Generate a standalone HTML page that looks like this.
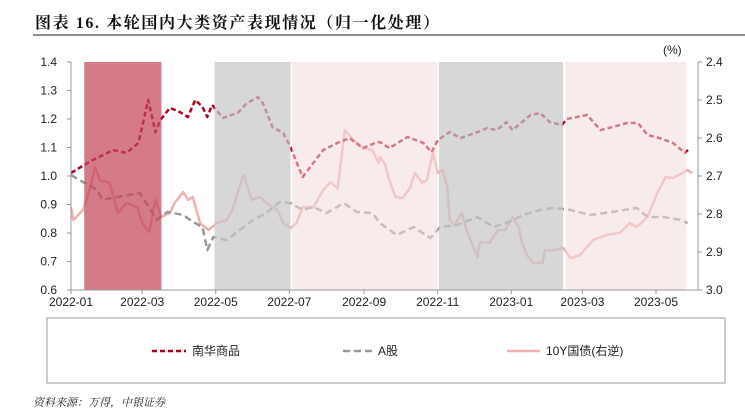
<!DOCTYPE html>
<html><head><meta charset="utf-8"><style>
body{margin:0;background:#fff;width:745px;height:412px;overflow:hidden;font-family:"Liberation Sans","Noto Sans CJK SC",sans-serif}
</style></head><body>
<svg id="c" width="745" height="412" xmlns="http://www.w3.org/2000/svg">
<text x="35" y="28" font-family="'Liberation Serif','Noto Serif CJK SC',serif" font-weight="bold" font-size="16" letter-spacing="1.6" fill="#111">图表 16. 本轮国内大类资产表现情况（归一化处理）</text>
<line x1="33" y1="35" x2="745" y2="35" stroke="#222" stroke-width="1"/>
<text x="663" y="54" font-size="12" fill="#222">(%)</text>
<g id="marks"></g>
<g id="bands"></g>
<g id="axes"></g>
<rect x="47" y="318" width="678" height="65" fill="none" stroke="#999" stroke-width="1"/>
<g><line x1="152" y1="351" x2="186" y2="351" stroke="#b0001e" stroke-width="2.5" stroke-dasharray="5,3"/><text x="192" y="355" font-size="12" fill="#222">南华商品</text></g>
<g><line x1="343" y1="351" x2="376" y2="351" stroke="#999" stroke-width="2.5" stroke-dasharray="7,4"/><text x="378" y="355" font-size="12" fill="#222">A股</text></g>
<g><line x1="507" y1="351" x2="540" y2="351" stroke="#f0b0b0" stroke-width="2.5"/><text x="546" y="355" font-size="12" fill="#222">10Y国债(右逆)</text></g>
<text x="33" y="406" font-size="11" font-style="italic" fill="#222" font-family="'Liberation Serif','Noto Serif CJK SC',serif">资料来源：万得，中银证券</text>
</svg>
<script>
const xTickLabels=["2022-01","2022-03","2022-05","2022-07","2022-09","2022-11","2023-01","2023-03","2023-05"];
const xTickDays=[0,59,120,181,243,304,365,424,485];
const leftTicks=[0.6,0.7,0.8,0.9,1.0,1.1,1.2,1.3,1.4];
const rightTicks=[2.4,2.5,2.6,2.7,2.8,2.9,3.0];
const nanhuaDays=[0,18,35,46,56,64,70,74,82,90,97,103,109,113,117,126,138,146,155,159,167,176,182,192,201,209,221,231,242,254,256,264,279,292,299,304,314,323,337,345,353,361,366,381,389,397,407,411,428,439,449,461,470,478,488,499,509,513];
const nanhuaVals=[1.011,1.056,1.091,1.081,1.116,1.267,1.154,1.196,1.239,1.225,1.207,1.267,1.242,1.207,1.249,1.204,1.221,1.256,1.277,1.256,1.172,1.151,1.102,0.996,1.046,1.091,1.116,1.133,1.098,1.119,1.119,1.098,1.137,1.116,1.084,1.126,1.154,1.133,1.154,1.168,1.161,1.189,1.161,1.214,1.221,1.189,1.179,1.200,1.214,1.161,1.172,1.186,1.186,1.144,1.133,1.116,1.081,1.098];
const ashareDays=[0,7,22,26,38,47,57,65,71,80,93,101,109,113,118,129,140,151,162,173,182,192,201,212,226,237,250,256,270,284,298,306,320,337,350,361,375,389,400,414,430,449,469,478,491,505,511];
const ashareVals=[1.004,0.986,0.951,0.916,0.926,0.933,0.940,0.888,0.846,0.874,0.863,0.839,0.821,0.740,0.786,0.775,0.811,0.846,0.870,0.909,0.905,0.881,0.891,0.870,0.905,0.874,0.870,0.835,0.793,0.821,0.782,0.821,0.828,0.856,0.821,0.835,0.863,0.881,0.888,0.881,0.863,0.874,0.888,0.856,0.856,0.846,0.835];
const bondDays=[0,2,10,16,20,24,32,39,46,55,59,65,70,75,82,86,93,97,101,107,114,121,129,134,138,143,150,157,162,171,176,182,187,192,201,209,215,221,225,227,234,242,250,255,256,260,264,269,275,281,285,291,295,300,304,308,312,314,318,324,328,332,337,339,347,354,360,366,371,374,378,383,391,393,400,408,414,422,433,444,455,463,469,478,486,493,499,507,511,515];
const bondVals=[2.782,2.816,2.789,2.729,2.676,2.711,2.718,2.797,2.771,2.782,2.824,2.847,2.763,2.808,2.797,2.771,2.742,2.763,2.755,2.824,2.842,2.824,2.816,2.789,2.745,2.697,2.763,2.755,2.771,2.789,2.824,2.837,2.824,2.782,2.782,2.737,2.716,2.732,2.632,2.579,2.605,2.626,2.632,2.666,2.650,2.666,2.711,2.755,2.758,2.732,2.692,2.718,2.711,2.639,2.692,2.684,2.729,2.816,2.829,2.797,2.842,2.876,2.913,2.874,2.876,2.842,2.842,2.808,2.834,2.876,2.908,2.929,2.929,2.895,2.895,2.889,2.916,2.908,2.868,2.855,2.850,2.824,2.834,2.808,2.745,2.703,2.705,2.692,2.684,2.692];
const bandStart=[11,119,183,305,410];
const bandEnd=[75,182,304,408,510];
const bandKind=["dark","gray","pink","gray","pink"];

const NS="http://www.w3.org/2000/svg";
const X0=71,Y0=62,Y1=290,XR=698,PXD=(656-71)/485;
const xs=d=>X0+d*PXD;
const yl=v=>Y1-(v-0.6)/0.8*(Y1-Y0);
const yr=v=>Y0+(v-2.4)/0.6*(Y1-Y0);
function mk(tag,attrs,parent){const e=document.createElementNS(NS,tag);for(const k in attrs)e.setAttribute(k,attrs[k]);parent.appendChild(e);return e;}
const marks=document.getElementById('marks'),bands=document.getElementById('bands'),axes=document.getElementById('axes');
function series(days,vals,yf,color,dash,name){
  const d=days.map((t,i)=>(i?'L':'M')+xs(t).toFixed(1)+','+yf(vals[i]).toFixed(1)).join('');
  const p=mk('path',{d:d,fill:'none',stroke:color,'stroke-width':2.5,'stroke-linejoin':'round'},marks);
  if(dash)p.setAttribute('stroke-dasharray',dash);
  
  
}
series(bondDays,bondVals,yr,'#f0b0b0',null,'line-10y-bond');
series(ashareDays,ashareVals,yl,'#999999','7,4','line-a-share');
series(nanhuaDays,nanhuaVals,yl,'#b0001e','5,3','line-nanhua');
const fills={dark:'rgba(196,70,92,0.72)',gray:'rgba(200,200,200,0.72)',pink:'rgba(243,218,218,0.55)'};
bandStart.forEach((s,i)=>{
  const r=mk('rect',{x:xs(s),y:Y0,width:xs(bandEnd[i])-xs(s),height:Y1-Y0,fill:fills[bandKind[i]]},bands);
  
  
});
const la=mk('path',{d:`M${X0},${Y0}V${Y1}H${XR}V${Y0}`,fill:'none',stroke:'#999','stroke-width':1},axes);


leftTicks.forEach(v=>{
  mk('line',{x1:X0-4,x2:X0,y1:yl(v),y2:yl(v),stroke:'#999'},axes);
  const t=mk('text',{x:X0-14,y:yl(v)+4,'text-anchor':'end','font-size':12,fill:'#222'},axes);t.textContent=v.toFixed(1);
  
  
});
rightTicks.forEach(v=>{
  mk('line',{x1:XR,x2:XR+4,y1:yr(v),y2:yr(v),stroke:'#999'},axes);
  const t=mk('text',{x:XR+8,y:yr(v)+4,'font-size':12,fill:'#222'},axes);t.textContent=v.toFixed(1);
  
  
});
xTickDays.forEach((d,i)=>{
  mk('line',{x1:xs(d),x2:xs(d),y1:Y1,y2:Y1+4,stroke:'#999'},axes);
  const t=mk('text',{x:xs(d),y:Y1+16,'text-anchor':'middle','font-size':12,fill:'#222'},axes);t.textContent=xTickLabels[i];
  
  
});
</script>
</body></html>
